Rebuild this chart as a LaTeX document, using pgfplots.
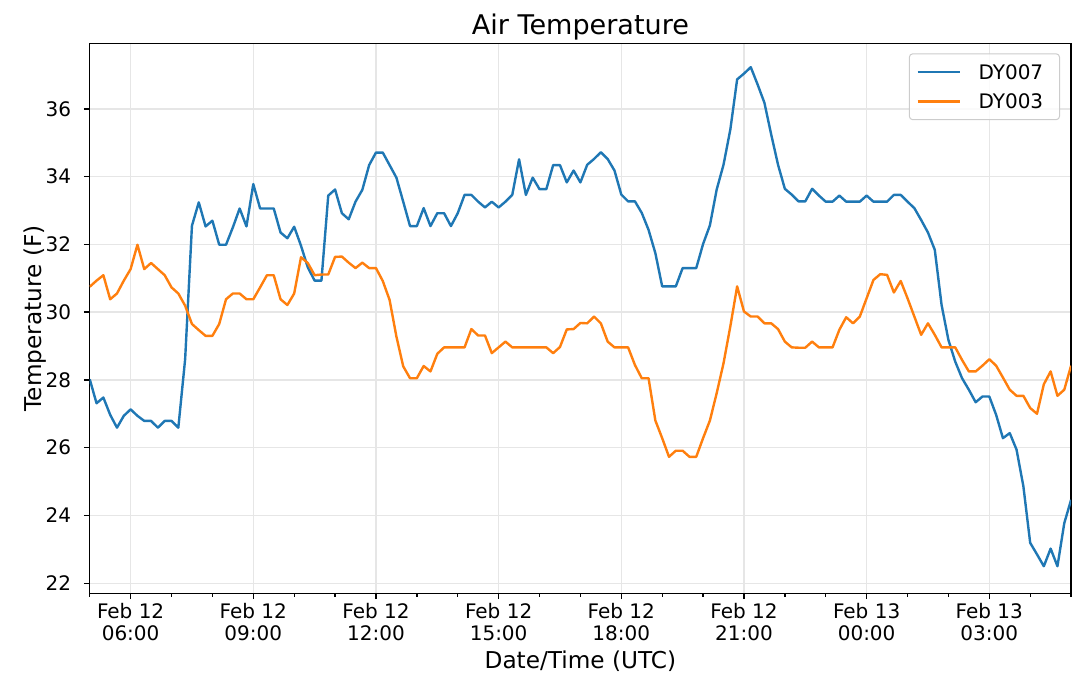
\documentclass[border=0pt]{standalone}
\usepackage{pgfplots}
\pgfplotsset{compat=1.18}
\usepackage{pgfplotstable}
\usepackage{fontspec}
\setmainfont{DejaVu Sans}
\definecolor{tabblue}{HTML}{1F77B4}
\definecolor{taborange}{HTML}{FF7F0E}
\definecolor{gridgray}{HTML}{E6E6E6}
\definecolor{leggray}{HTML}{CCCCCC}

\pgfplotstableread{
k blue orange
0 28.02 30.75
1 27.31 30.93
2 27.48 31.09
3 26.97 30.38
4 26.59 30.55
5 26.94 30.93
6 27.13 31.27
7 26.94 31.99
8 26.79 31.27
9 26.79 31.45
10 26.59 31.27
11 26.79 31.09
12 26.79 30.73
13 26.59 30.55
14 28.61 30.19
15 32.55 29.65
16 33.24 29.47
17 32.53 29.30
18 32.70 29.30
19 31.99 29.65
20 31.99 30.38
21 32.50 30.55
22 33.06 30.55
23 32.53 30.38
24 33.78 30.38
25 33.06 30.73
26 33.06 31.09
27 33.06 31.09
28 32.35 30.38
29 32.18 30.21
30 32.52 30.55
31 31.96 31.62
32 31.32 31.45
33 30.93 31.09
34 30.93 31.11
35 33.44 31.11
36 33.62 31.63
37 32.92 31.64
38 32.74 31.46
39 33.26 31.30
40 33.61 31.46
41 34.34 31.30
42 34.71 31.30
43 34.71 30.92
44 34.34 30.36
45 33.97 29.28
46 33.26 28.40
47 32.54 28.05
48 32.54 28.05
49 33.07 28.41
50 32.54 28.25
51 32.92 28.77
52 32.92 28.96
53 32.54 28.96
54 32.92 28.96
55 33.46 28.96
56 33.46 29.50
57 33.26 29.31
58 33.09 29.31
59 33.26 28.79
60 33.09 28.96
61 33.26 29.13
62 33.46 28.96
63 34.51 28.96
64 33.46 28.96
65 33.97 28.96
66 33.63 28.96
67 33.63 28.96
68 34.34 28.79
69 34.34 28.97
70 33.83 29.49
71 34.18 29.50
72 33.83 29.68
73 34.35 29.67
74 34.52 29.87
75 34.72 29.67
76 34.52 29.13
77 34.18 28.96
78 33.47 28.96
79 33.27 28.96
80 33.27 28.44
81 32.93 28.05
82 32.43 28.05
83 31.74 26.80
84 30.76 26.28
85 30.76 25.73
86 30.76 25.91
87 31.30 25.91
88 31.30 25.73
89 31.30 25.73
90 32.01 26.28
91 32.56 26.80
92 33.62 27.61
93 34.35 28.49
94 35.39 29.58
95 36.87 30.76
96 37.04 30.02
97 37.23 29.87
98 36.72 29.87
99 36.18 29.67
100 35.24 29.67
101 34.35 29.50
102 33.64 29.13
103 33.47 28.96
104 33.27 28.95
105 33.27 28.95
106 33.64 29.13
107 33.44 28.96
108 33.26 28.96
109 33.26 28.96
110 33.44 29.48
111 33.26 29.85
112 33.26 29.67
113 33.26 29.87
114 33.44 30.41
115 33.26 30.95
116 33.26 31.12
117 33.26 31.10
118 33.46 30.58
119 33.46 30.92
120 33.26 30.41
121 33.07 29.87
122 32.72 29.33
123 32.35 29.67
124 31.84 29.33
125 30.21 28.96
126 29.18 28.96
127 28.54 28.96
128 28.05 28.59
129 27.71 28.25
130 27.34 28.25
131 27.51 28.42
132 27.51 28.61
133 26.97 28.42
134 26.28 28.07
135 26.43 27.71
136 25.94 27.53
137 24.86 27.53
138 23.19 27.17
139 22.85 27.00
140 22.50 27.87
141 23.02 28.25
142 22.50 27.53
143 23.77 27.71
144 24.46 28.42
}\datatable

\begin{document}
\begin{tikzpicture}
\useasboundingbox (0,0) rectangle (810pt,517.5pt);
\begin{axis}[
  at={(67.3pt,72.5pt)}, anchor=south west,
  width=736pt, height=412.4pt, scale only axis,
  xmin=0, xmax=144, ymin=21.70, ymax=37.93,
  xtick={6,24,42,60,78,96,114,132},
  xticklabels={{Feb 12\\06:00},{Feb 12\\09:00},{Feb 12\\12:00},{Feb 12\\15:00},{Feb 12\\18:00},{Feb 12\\21:00},{Feb 13\\00:00},{Feb 13\\03:00}},
  minor xtick={0,12,18,30,36,48,54,66,72,84,90,102,108,120,126,138,144},
  ytick={22,24,26,28,30,32,34,36},
  tick pos=left, tick align=outside,
  major tick length=4.4pt, minor tick length=2.5pt,
  every tick/.style={black, line width=1pt},
  axis line style={line width=1pt, black},
  xmajorgrids, ymajorgrids,
  major grid style={gridgray, line width=1pt},
  /pgf/number format/assume math mode=true,
  tick label style={font=\fontsize{15}{16.5}\selectfont},
  xticklabel style={align=center, anchor=north, inner sep=0pt, yshift=-3pt},
  yticklabel style={anchor=east, inner sep=0pt, xshift=-9.3pt},
  title={Air Temperature},
  title style={font=\fontsize{20.3}{24}\selectfont, at={(axis description cs:0.5,1.001)}, anchor=base},
  xlabel={Date/Time (UTC)},
  xlabel style={font=\fontsize{17.4}{20}\selectfont, at={(axis description cs:0.5,-0.1358)}, anchor=base},
  ylabel={Temperature (F)},
  ylabel style={font=\fontsize{17.4}{20}\selectfont, at={(axis description cs:-0.0489,0.5)}, anchor=base},
  legend cell align=left,
  legend image code/.code={\draw[#1, line width=1.8pt] (0pt,0pt) -- (31.8pt,0pt);},
  legend style={at={(rel axis cs:1,1)}, anchor=north east, xshift=-8.3pt, yshift=-7.4pt,
    draw=leggray, line width=0.75pt, fill=white, fill opacity=0.8, text opacity=1,
    rounded corners=2.5pt, font=\fontsize{15}{18}\selectfont,
    inner xsep=5.25pt, inner ysep=8pt, row sep=11.1pt, column sep=13pt,
    nodes={inner sep=0pt, text depth=0pt}},
]
\addplot[tabblue, line width=1.8pt, line join=round] table[x=k, y=blue]{\datatable};
\addlegendentry{\makebox[55.5pt][l]{DY007}}
\addplot[taborange, line width=1.8pt, line join=round] table[x=k, y=orange]{\datatable};
\addlegendentry{\makebox[55.5pt][l]{DY003}}
\end{axis}
\end{tikzpicture}
\end{document}
